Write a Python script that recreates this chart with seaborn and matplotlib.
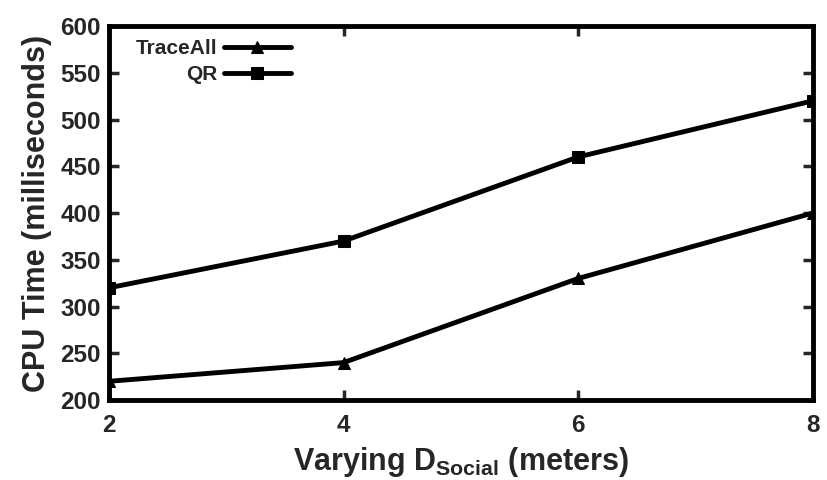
import pandas as pd
import matplotlib
matplotlib.use("Agg")
import matplotlib.pyplot as plt
import seaborn as sns

# Data
d_social = [2, 4, 6, 8]
traceall = [220, 240, 330, 400]
qr = [320, 370, 460, 520]

df = pd.DataFrame({
    "D": d_social * 2,
    "time": traceall + qr,
    "method": ["TraceAll"] * 4 + ["QR"] * 4,
})

sns.set_style("ticks")
plt.rcParams['font.family'] = ['Liberation Sans', 'DejaVu Sans']
plt.rcParams['font.weight'] = 'bold'
plt.rcParams['mathtext.fontset'] = 'custom'
plt.rcParams['mathtext.rm'] = 'Liberation Sans:bold'
plt.rcParams['mathtext.bf'] = 'Liberation Sans:bold'

fig = plt.figure(figsize=(8.28, 4.8), dpi=100)
ax = fig.add_axes([0.1316, 0.1667, 0.850, 0.779])

sns.lineplot(
    data=df, x="D", y="time", hue="method", style="method",
    markers={"TraceAll": "^", "QR": "s"}, dashes=False,
    palette={"TraceAll": "black", "QR": "black"},
    linewidth=3.5, markersize=9, markeredgecolor="black",
    ax=ax,
)

ax.set_xlim(2, 8)
ax.set_ylim(200, 600)
ax.set_xticks(d_social)
ax.set_yticks(range(200, 601, 50))
ax.tick_params(direction="in", length=7, width=2.5, top=True, right=True,
               labelsize=17.5)
ax.tick_params(axis="x", pad=10)
ax.tick_params(axis="y", pad=6)
for lbl in ax.get_xticklabels() + ax.get_yticklabels():
    lbl.set_fontweight("bold")
for sp in ax.spines.values():
    sp.set_linewidth(3.5)
    sp.set_color("black")

ax.set_xlabel("Varying D$_{\\mathbf{Social}}$ (meters)", fontsize=22,
              fontweight="bold", labelpad=6)
ax.set_ylabel("CPU Time (milliseconds)", fontsize=22, fontweight="bold",
              labelpad=6)

ax.legend(loc="upper left", frameon=False, markerfirst=False,
          handlelength=3.2, borderaxespad=0.6, labelspacing=0.35,
          handletextpad=0.3, bbox_to_anchor=(0.009, 1.021),
          prop={"weight": "bold", "size": 15})

fig.savefig("out.png", dpi=100)
